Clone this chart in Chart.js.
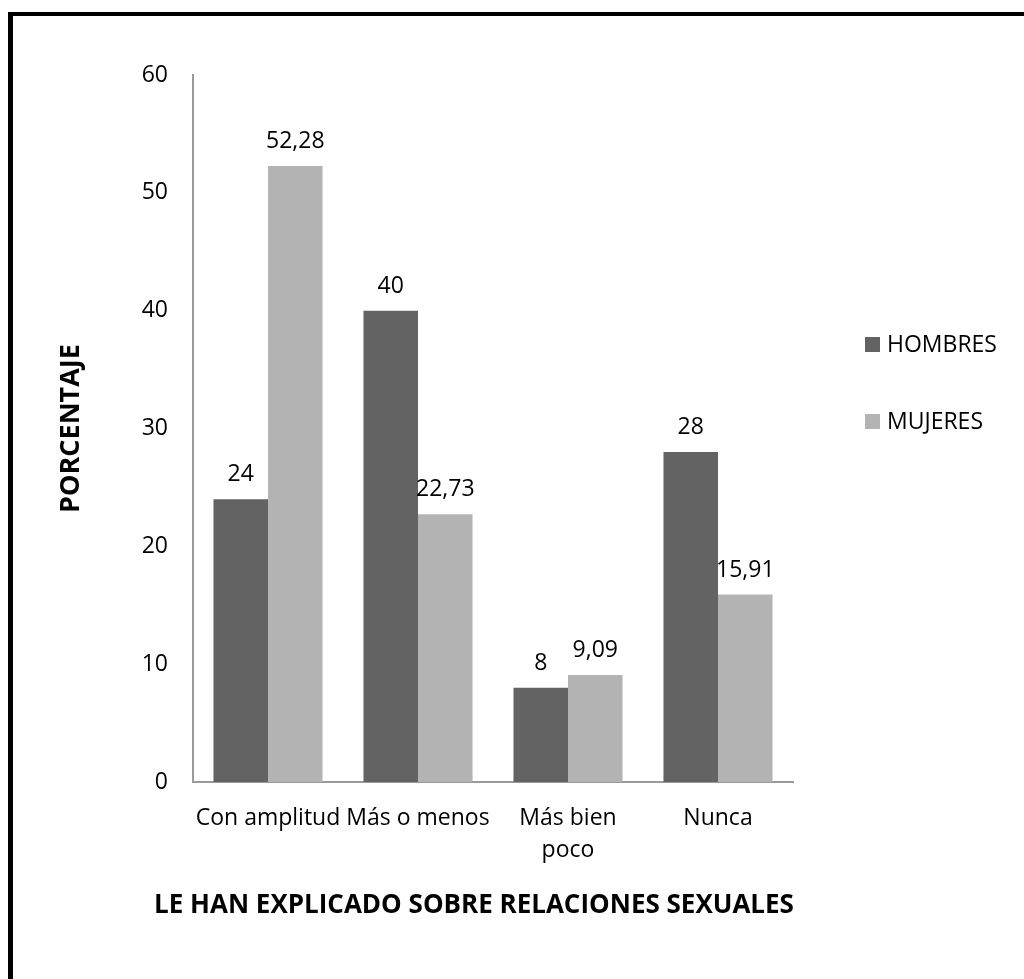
<!DOCTYPE html>
<html>
<head>
<meta charset="utf-8">
<script src="https://cdn.jsdelivr.net/npm/chart.js@4"></script>
<style>
  body { margin: 0; background: #fff; }
  #wrap { position: relative; width: 1024px; height: 979px; }
</style>
</head>
<body>
<div id="wrap"><canvas id="chart1"></canvas></div>
<script>
// datos del gráfico
var categorias = ['Con amplitud', 'Más o menos', ['Más bien', 'poco'], 'Nunca'];
var hombres = [24, 40, 8, 28];
var mujeres = [52.28, 22.73, 9.09, 15.91];
var serieNombres = ['HOMBRES', 'MUJERES'];
var ticksY = [0, 10, 20, 30, 40, 50, 60];
var tituloX = 'LE HAN EXPLICADO SOBRE RELACIONES SEXUALES';
var tituloY = 'PORCENTAJE';

var fuente = '"Open Sans", Lato, sans-serif';

// etiquetas de valor, leyenda, titulo X y marco
var extras = {
  id: 'extras',
  beforeDraw: function (chart) {
    var c = chart.ctx;
    c.save();
    c.fillStyle = '#000';
    c.fillRect(8, 12, 1016, 4);
    c.fillRect(8, 12, 5, 967);
    c.restore();
  },
  afterDatasetsDraw: function (chart) {
    var c = chart.ctx;
    c.save();
    c.font = '23px ' + fuente;
    c.fillStyle = '#000';
    c.textAlign = 'center';
    c.textBaseline = 'alphabetic';
    chart.data.datasets.forEach(function (ds, i) {
      chart.getDatasetMeta(i).data.forEach(function (bar, j) {
        var txt = String(ds.data[j]).replace('.', ',');
        c.fillText(txt, bar.x, bar.y - 18);
      });
    });
    // leyenda
    c.textAlign = 'left';
    c.textBaseline = 'middle';
    chart.data.datasets.forEach(function (ds, i) {
      var y = 344 + i * 77;
      c.fillStyle = ds.backgroundColor;
      c.fillRect(865, y - 7, 15, 15);
      c.fillStyle = '#000';
      c.fillText(ds.label, 887, y + 1);
    });
    // titulo eje X
    c.font = 'bold 26px ' + fuente;
    c.textAlign = 'center';
    c.fillText(tituloX, 474, 906);
    c.restore();
  }
};

var ctx1 = document.getElementById('chart1').getContext('2d');
var chart1 = new Chart(ctx1, {
  type: 'bar',
  data: {
    labels: categorias,
    datasets: [{
      label: serieNombres[0],
      data: hombres,
      backgroundColor: '#636363'
    }, {
      label: serieNombres[1],
      data: mujeres,
      backgroundColor: '#b3b3b3'
    }]
  },
  options: {
    responsive: true,
    maintainAspectRatio: false,
    animation: false,
    layout: { padding: { left: 13, right: 231, top: 75, bottom: 0 } },
    datasets: { bar: { categoryPercentage: 0.727, barPercentage: 1 } },
    plugins: { legend: { display: false }, tooltip: { enabled: false } },
    scales: {
      x: {
        grid: { display: false, drawTicks: false },
        border: { display: true, color: '#9a9a9a', width: 2 },
        ticks: {
          color: '#000', maxRotation: 0, padding: 21, autoSkip: false,
          font: { family: fuente, size: 23, lineHeight: 1.38 }
        },
        afterFit: function (s) { s.height = 197; }
      },
      y: {
        min: 0, max: 60,
        grid: { display: false, drawTicks: false },
        border: { display: true, color: '#9a9a9a', width: 2 },
        afterBuildTicks: function (s) { s.ticks = ticksY.map(function (v) { return { value: v }; }); },
        ticks: { color: '#000', padding: 25, font: { family: fuente, size: 23 } },
        title: {
          display: true, text: tituloY, color: '#000',
          padding: { top: 42 },
          font: { family: fuente, size: 27, weight: 'bold' }
        },
        afterFit: function (s) { s.width = 180; }
      }
    }
  },
  plugins: [extras]
});
</script>
</body>
</html>
